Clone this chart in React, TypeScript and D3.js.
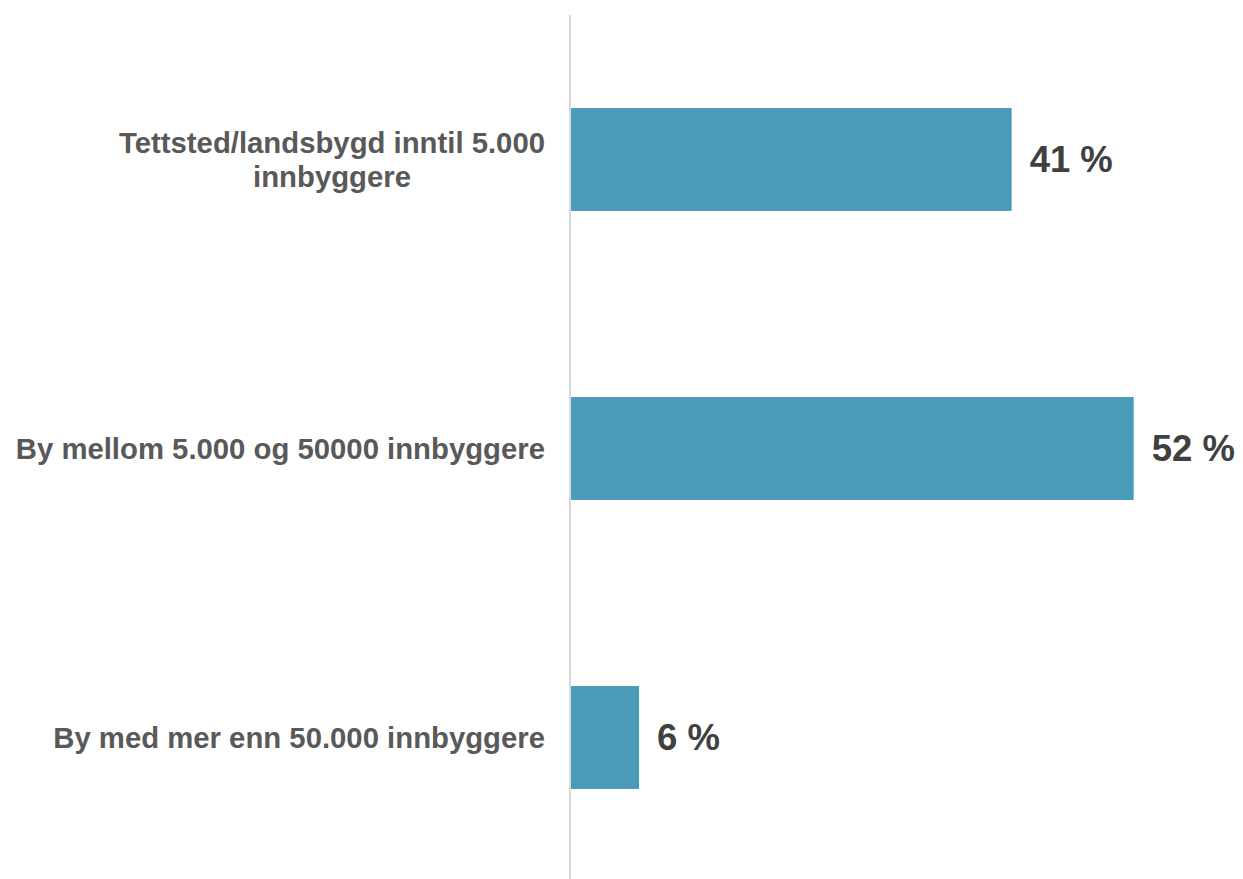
import React, { useEffect, useRef } from "react";
import * as d3 from "d3";

const categories = [
  "Tettsted/landsbygd inntil 5.000 innbyggere",
  "By mellom 5.000 og 50000 innbyggere",
  "By med mer enn 50.000 innbyggere",
];
const values = [40.8, 52.1, 6.3];
const valueLabels = ["41 %", "52 %", "6 %"];

const W = 1243;
const H = 879;

export default function App() {
  const ref = useRef<SVGSVGElement | null>(null);

  useEffect(() => {
    const svg = d3.select(ref.current);
    svg.selectAll("*").remove();

    const axisX = 571;
    const x = d3.scaleLinear().domain([0, 60]).range([axisX, axisX + 60 * 10.8]);
    const y = d3
      .scaleBand<number>()
      .domain(d3.range(categories.length))
      .range([15, 882])
      .paddingInner(0.644)
      .paddingOuter(0.322);

    // bars
    svg
      .append("g")
      .selectAll("rect")
      .data(values)
      .join("rect")
      .attr("x", x(0))
      .attr("y", (_, i) => y(i)!)
      .attr("width", (d) => x(d) - x(0))
      .attr("height", y.bandwidth())
      .attr("fill", "#4a9bb9");

    // axis line
    svg
      .append("line")
      .attr("x1", axisX - 1)
      .attr("x2", axisX - 1)
      .attr("y1", 15)
      .attr("y2", H)
      .attr("stroke", "#d9d9d9")
      .attr("stroke-width", 2);

    // value labels
    svg
      .append("g")
      .selectAll("text")
      .data(values)
      .join("text")
      .attr("x", (d) => x(d) + 18)
      .attr("y", (_, i) => y(i)! + y.bandwidth() / 2)
      .attr("dy", "0.35em")
      .attr("font-family", "'Liberation Sans', Arial, sans-serif")
      .attr("font-weight", "bold")
      .attr("font-size", 36.5)
      .attr("fill", "#404040")
      .text((_, i) => valueLabels[i]);

    // category labels with wrapping
    const labelRight = 545;
    const maxWidth = 550;
    const fontSize = 29.3;
    const lineH = 34;
    const g = svg.append("g");
    categories.forEach((cat, i) => {
      const t = g
        .append("text")
        .attr("font-family", "'Liberation Sans', Arial, sans-serif")
        .attr("font-weight", "bold")
        .attr("font-size", fontSize)
        .attr("fill", "#595959");
      const words = cat.split(" ");
      const lines: string[] = [];
      let cur = "";
      const measure = t.append("tspan");
      words.forEach((w) => {
        const test = cur ? cur + " " + w : w;
        measure.text(test);
        const len = (measure.node() as SVGTSpanElement).getComputedTextLength();
        if (len > maxWidth && cur) {
          lines.push(cur);
          cur = w;
        } else {
          cur = test;
        }
      });
      if (cur) lines.push(cur);
      const widths = lines.map((l) => {
        measure.text(l);
        return (measure.node() as SVGTSpanElement).getComputedTextLength();
      });
      measure.remove();
      const maxW = d3.max(widths) || 0;
      const cx = labelRight - maxW / 2;
      const cy = y(i)! + y.bandwidth() / 2;
      const startY = cy - ((lines.length - 1) * lineH) / 2;
      t.attr("text-anchor", "middle");
      lines.forEach((l, j) => {
        t.append("tspan")
          .attr("x", cx)
          .attr("y", startY + j * lineH)
          .attr("dy", "0.35em")
          .text(l);
      });
    });
  }, []);

  return (
    <>
      <style>{`body{margin:0}`}</style>
      <svg ref={ref} width={W} height={H} style={{ display: "block", background: "#fff" }} />
    </>
  );
}
